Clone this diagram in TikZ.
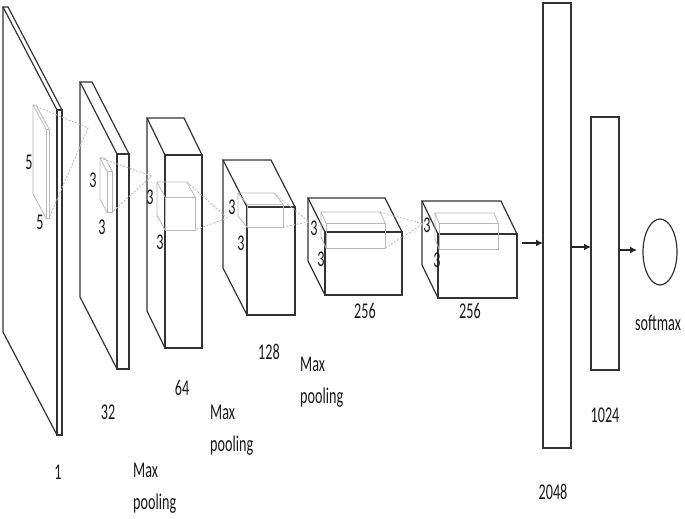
\documentclass[tikz,border=0pt]{standalone}
\usepackage{fontspec}
\newfontfamily\labfont[FakeStretch=0.63]{Carlito}
\usetikzlibrary{calc,arrows.meta,shapes.geometric}
\tikzset{
  mainbox/.style={draw=black!80, line width=1.2pt, inner sep=0pt, outer sep=0pt},
  kernbox/.style={draw=gray!55, line width=0.8pt, inner sep=0pt, outer sep=0pt},
  proj/.style={draw=gray!50, line width=0.9pt, dash pattern=on 2pt off 1.5pt},
  fcbox/.style={draw=black!80, line width=1.2pt, inner sep=0pt, outer sep=0pt},
  arr/.style={draw=black!85, line width=1.8pt, -{Latex[length=7pt,width=7pt]}},
  lab/.style={font=\labfont\fontsize{22.5}{32}\selectfont, inner sep=0pt, align=left, text=black!90}
}
\newcommand\layerbox[6]{%
  \node[#2, minimum width=#4pt, minimum height=#5pt] (#1) at (#3) {};
  \draw[#2] (#1.north west) -- ++(#6) coordinate (#1-btl)
     -- ($(#1.north east)+(#6)$) coordinate (#1-btr) -- (#1.north east);
  \draw[#2] (#1-btl) -- ($(#1.south west)+(#6)$) coordinate (#1-bbl) -- (#1.south west);
}
\begin{document}
\begin{tikzpicture}[x=1pt,y=-1pt]
\useasboundingbox (0,0) rectangle (685,519);
% convolution volumes
\layerbox{p1}{mainbox}{59.5,272.5}{5}{325}{-54,-103}
\layerbox{p2}{mainbox}{123,261.5}{12}{215}{-37,-72}
\layerbox{b3}{mainbox}{183.5,251.5}{37}{193}{-18,-37}
\layerbox{b4}{mainbox}{271,261}{48}{108}{-24,-47}
\layerbox{b5}{mainbox}{363.5,263.5}{77}{63}{-17,-34}
\layerbox{b6}{mainbox}{477.5,266}{79}{64}{-16,-33}
% kernels
\layerbox{k1}{kernbox}{47.5,173.5}{3}{89}{-13,-24}
\layerbox{k2}{kernbox}{109.5,191.5}{5}{41}{-7,-13}
\layerbox{k3}{kernbox}{180,213.5}{30}{33}{-8,-15}
\layerbox{k4}{kernbox}{265,215.5}{36}{23}{-9,-11}
\layerbox{k5}{kernbox}{355.5,235.5}{59}{25}{-5,-11}
\layerbox{k6}{kernbox}{468.5,236}{59}{26}{-4,-10}
% projections
\coordinate (ap1) at (88,128);
\coordinate (ap2) at (152,176);
\coordinate (ap3) at (227,218);
\coordinate (ap4) at (309,222);
\coordinate (ap5) at (423,224);
\draw[proj] (k1-btl) -- (ap1) -- (k1.south east);
\draw[proj] (k2-btl) -- (ap2) -- (k2.south east);
\draw[proj] (k3-btr) -- (ap3) -- (k3.south east);
\draw[proj] (k4-btr) -- (ap4) -- (k4.south east);
\draw[proj] (k5-btr) -- (ap5) -- (k5.south east);
% kernel size labels
\node[lab] (l5a) at (29,162) {5};
\node[lab] (l5b) at (40,222) {5};
\node[lab] (l3a) at (93,180) {3};
\node[lab] (l3b) at (102,227) {3};
\node[lab] (l3c) at (150,197) {3};
\node[lab] (l3d) at (160,242) {3};
\node[lab] (l3e) at (232,207) {3};
\node[lab] (l3f) at (241,243) {3};
\node[lab] (l3g) at (314,228) {3};
\node[lab] (l3h) at (321,259) {3};
\node[lab] (l3i) at (427,225) {3};
\node[lab] (l3j) at (437,260) {3};
% fully connected
\node[fcbox, minimum width=28pt, minimum height=445pt] (fc1) at (557,225.5) {};
\node[fcbox, minimum width=28pt, minimum height=253pt] (fc2) at (605,243.5) {};
\node[draw=black!80, line width=1.2pt, ellipse, minimum width=34pt, minimum height=66pt, inner sep=0pt, outer sep=0pt] (sm) at (660,252) {};
\coordinate (a1) at (522,243);
\coordinate (a2) at (0,247);
\coordinate (a3) at (0,250);
\draw[arr] (a1) -- (fc1.west |- a1);
\draw[arr] (fc1.east |- a2) -- (fc2.west |- a2);
\draw[arr, shorten >=6pt] (fc2.east |- a3) -- (sm.west |- a3);
% layer labels
\node[lab] (n1) at (58,472) {1};
\node[lab] (n32) at (108,412) {32};
\node[lab] (n64) at (182,388) {64};
\node[lab] (n128) at (269,352) {128};
\node[lab] (n256a) at (365,311) {256};
\node[lab] (n256b) at (470,311) {256};
\node[lab] (n2048) at (553,492) {2048};
\node[lab] (n1024) at (605,415) {1024};
\node[lab] (nsm) at (658,323) {softmax};
\node[lab, anchor=west] (mp1) at (133,488) {Max\\pooling};
\node[lab, anchor=west] (mp2) at (210,430) {Max\\pooling};
\node[lab, anchor=west] (mp3) at (300,382) {Max\\pooling};
\end{tikzpicture}
\end{document}
